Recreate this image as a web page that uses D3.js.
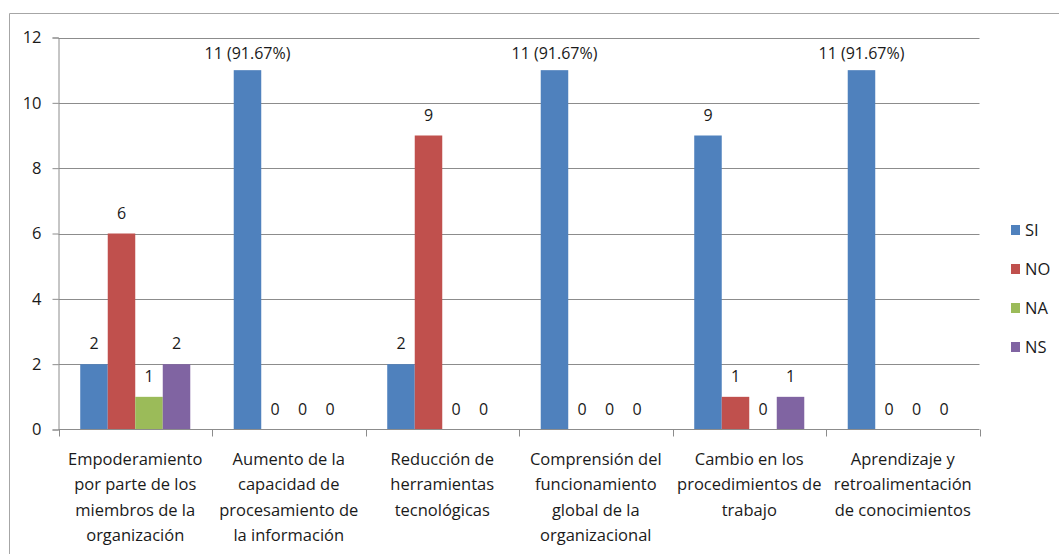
<!DOCTYPE html>
<html><head><meta charset="utf-8">
<script src="https://cdn.jsdelivr.net/npm/d3@7"></script>
<style>
html,body{margin:0;padding:0;background:#fff;}
svg{display:block;}
text{font-family:"Open Sans",sans-serif;fill:#1a1a1a;}
</style></head>
<body>
<svg id="chart" width="1059" height="554"></svg>
<script>
const categories = [
  ["Empoderamiento","por parte de los","miembros de la","organización"],
  ["Aumento de la","capacidad de","procesamiento de","la información"],
  ["Reducción de","herramientas","tecnológicas"],
  ["Comprensión del","funcionamiento","global de la","organizacional"],
  ["Cambio en los","procedimientos de","trabajo"],
  ["Aprendizaje y","retroalimentación","de conocimientos"]
];
const seriesNames = ["SI","NO","NA","NS"];
const siValues = [2, 11, 2, 11, 9, 11];
const noValues = [6, 0, 9, 0, 1, 0];
const naValues = [1, 0, 0, 0, 0, 0];
const nsValues = [2, 0, 0, 0, 1, 0];
const siLabels = ["2", "11 (91.67%)", "2", "11 (91.67%)", "9", "11 (91.67%)"];
const yTicks = [0, 2, 4, 6, 8, 10, 12];
const colors = ["#4F81BD", "#C0504D", "#9BBB59", "#8064A2"];

const seriesValues = [siValues, noValues, naValues, nsValues];
const svg = d3.select("#chart");

// outer frame
svg.append("path").attr("d", "M9.5,554 L9.5,13.5 L1059,13.5")
  .attr("fill", "none").attr("stroke", "#a6a6a6").attr("stroke-width", 1);

const x0 = d3.scaleBand().domain(d3.range(categories.length)).range([58.5, 979.5]).paddingInner(0).paddingOuter(0);
const x1 = d3.scaleBand().domain(d3.range(seriesNames.length))
  .range([0, x0.bandwidth()]).paddingOuter(0.79).paddingInner(0);
const y = d3.scaleLinear().domain([0, 12]).range([429.5, 37.5]);

// gridlines
svg.append("g").selectAll("line").data(yTicks.filter(t => t > 0)).join("line")
  .attr("x1", 58.5).attr("x2", 979.5)
  .attr("y1", d => Math.round(y(d)) + 0.5).attr("y2", d => Math.round(y(d)) + 0.5)
  .attr("stroke", "#8c8c8c").attr("stroke-width", 1);

// y axis
const yAxis = svg.append("g").attr("transform", "translate(58.5,0)")
  .call(d3.axisLeft(y).tickValues(yTicks).tickSize(6).tickPadding(11).tickFormat(d3.format("d")));
yAxis.selectAll("path,line").attr("stroke", "#8c8c8c");
yAxis.selectAll("text").style("font-size", "16.5px").attr("fill", "#1a1a1a").style("font-family", "'Open Sans',sans-serif");

// bars
const groups = svg.append("g").selectAll("g").data(categories).join("g")
  .attr("transform", (d, i) => `translate(${x0(i)},0)`);
groups.selectAll("rect").data((d, i) => seriesValues.map((vals, s) => ({s, v: vals[i]})))
  .join("rect")
  .attr("x", d => x1(d.s)).attr("width", x1.bandwidth())
  .attr("y", d => y(d.v)).attr("height", d => y(0) - y(d.v))
  .attr("fill", d => colors[d.s]);

// data labels
groups.selectAll("text.lbl").data((d, i) => seriesValues.map((vals, s) => ({s, v: vals[i], t: s === 0 ? siLabels[i] : String(vals[i])})))
  .join("text").attr("class", "lbl")
  .attr("x", d => x1(d.s) + x1.bandwidth() / 2)
  .attr("y", d => y(d.v) - (d.v >= 10 ? 11 : 15))
  .attr("text-anchor", "middle")
  .style("font-size", "16px")
  .text(d => d.t);

// x axis
const xAxisG = svg.append("g");
xAxisG.append("line").attr("x1", 58.5).attr("x2", 979.5).attr("y1", 429.5).attr("y2", 429.5).attr("stroke", "#8c8c8c");
xAxisG.selectAll("line.tick").data(d3.range(categories.length + 1)).join("line").attr("class", "tick")
  .attr("x1", i => Math.round(i < categories.length ? x0(i) : x0.range()[1]) + 0.5)
  .attr("x2", i => Math.round(i < categories.length ? x0(i) : x0.range()[1]) + 0.5)
  .attr("y1", 429.5).attr("y2", 436.5).attr("stroke", "#8c8c8c");

// category labels
const catText = svg.append("g").selectAll("text").data(categories).join("text")
  .attr("text-anchor", "middle")
  .style("font-size", "16.5px")
  .attr("transform", (d, i) => `translate(${x0(i) + x0.bandwidth() / 2},465)`);
catText.selectAll("tspan").data(d => d).join("tspan")
  .attr("x", 0).attr("y", (d, j) => j * 25.3).text(d => d);

// legend
const legend = svg.append("g").selectAll("g").data(seriesNames).join("g")
  .attr("transform", (d, i) => `translate(1011,${230 + i * 39})`);
legend.append("rect").attr("x", 0).attr("y", -5).attr("width", 9).attr("height", 10)
  .attr("fill", (d, i) => colors[i]);
legend.append("text").attr("x", 14).attr("y", 6).style("font-size", "16.5px").text(d => d);
</script>
</body></html>
